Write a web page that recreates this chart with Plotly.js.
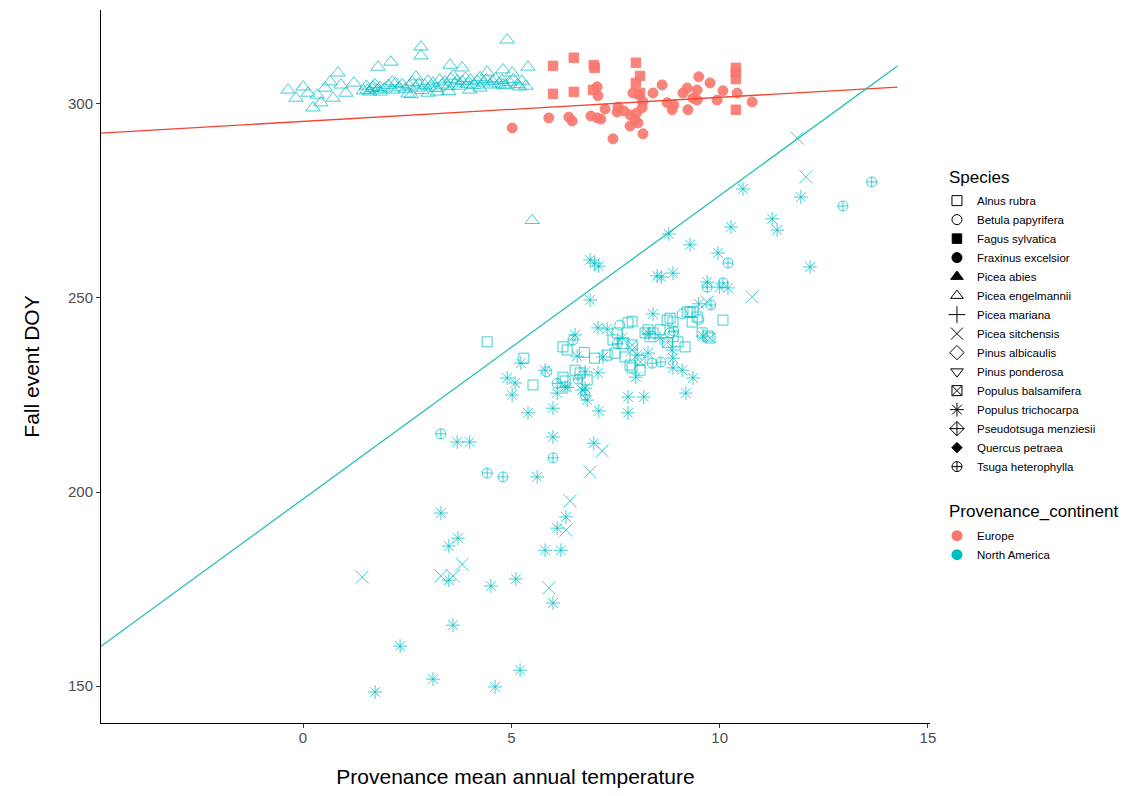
<!DOCTYPE html>
<html>
<head>
<meta charset="utf-8">
<script src="https://cdn.plot.ly/plotly-3.0.1.min.js"></script>
<style>html,body{margin:0;padding:0;background:#fff;}#chart{width:1143px;height:796px;}</style>
</head>
<body>
<div id="chart"></div>
<script>
// ---------------- data ----------------
const speciesNames = ["Alnus rubra","Betula papyrifera","Fagus sylvatica","Fraxinus excelsior","Picea abies","Picea engelmannii","Picea mariana","Picea sitchensis","Pinus albicaulis","Pinus ponderosa","Populus balsamifera","Populus trichocarpa","Pseudotsuga menziesii","Quercus petraea","Tsuga heterophylla"];
const continents = ["Europe","North America"];
const continentColors = ["#F8766D","#00BFC4"];
const xTicks = [0,5,10,15];
const yTicks = [150,200,250,300];

// Europe
const fagusX = [6.0,6.5,6.98,7.0,7.99,8.09,7.99,6.0,6.5,6.96,10.39,10.39,10.39,10.39,8.09];
const fagusY = [309.8,311.9,310.0,309.3,310.6,307.2,305.4,302.6,303.1,303.6,309.3,308.0,306.4,298.5,302.8];
const fraxinusX = [5.02,5.9,6.38,6.46,6.91,7.06,7.15,7.06,7.08,7.25,7.44,7.56,7.54,7.85,7.85,7.92,7.97,8.04,8.16,8.14,8.16,8.06,8.4,8.62,8.74,8.86,8.9,9.12,9.22,9.24,9.36,9.46,9.46,9.5,9.77,9.94,10.08,10.42,10.78,7.7,8.0];
const fraxinusY = [293.8,296.4,296.6,295.6,296.9,296.4,296.1,304.4,302.1,298.7,291.0,299.2,297.9,297.2,294.3,302.8,295.9,295.1,292.3,299.0,300.5,302.3,302.8,304.9,300.3,298.5,299.7,302.8,304.1,298.5,301.5,301.0,303.6,307.0,305.4,301.0,303.4,302.8,300.5,298.2,297.6];

// North America
const engelmanniiX = [-0.36,-0.17,0.0,0.12,0.24,0.34,0.43,0.53,0.65,0.72,0.84,0.91,1.03,1.22,1.54,1.68,1.80,1.85,2.11,2.14,2.52,2.71,2.83,2.83,3.53,3.82,4.42,4.9,4.8,5.02,5.4,5.2,4.8,3.22,4.25,
  1.45,1.52,1.6,1.65,1.72,1.78,1.85,1.95,2.05,2.15,2.22,2.3,2.38,2.45,2.55,2.62,2.7,2.78,2.85,2.92,3.0,3.05,3.12,3.2,3.28,3.33,3.4,3.48,3.55,3.6,3.65,3.7,3.75,3.82,3.9,3.95,4.02,4.1,4.18,4.25,4.32,4.4,4.48,4.55,4.62,4.7,4.78,4.85,4.95,5.05,5.15,5.25,5.35,3.5,4.0,2.6,3.0,5.5];
const engelmanniiY = [303.6,301.5,304.4,302.8,299.0,302.3,300.3,304.1,305.7,301.5,308.0,304.9,302.8,305.4,303.6,304.4,309.5,303.1,310.8,305.7,302.6,307.0,314.7,312.4,310.0,309.3,308.2,316.5,308.8,308.0,309.5,304.4,304.9,303.1,304.1,
  303.4,304.6,303.1,304.0,305.0,303.6,304.3,303.9,304.8,303.6,305.3,304.2,305.0,303.8,304.6,305.6,304.1,305.2,303.5,304.8,305.9,304.4,305.4,304.0,306.2,304.9,305.7,304.5,306.4,307.2,305.2,306.0,304.6,305.8,306.6,305.1,306.2,304.8,305.9,306.8,305.4,306.3,304.9,305.8,306.5,305.2,306.1,304.7,305.6,306.3,305.0,305.9,304.6,303.2,303.6,302.4,302.8,270.0];

const trichocarpaX = [10.56,11.95,11.26,11.38,12.17,10.27,8.78,9.29,9.96,6.89,7.0,7.1,8.5,8.6,8.88,9.7,10.0,10.2,6.89,8.4,7.08,7.3,6.53,7.66,8.57,8.86,7.2,6.58,8.02,8.28,8.88,8.88,9.1,9.36,7.99,7.08,6.77,6.34,6.77,7.8,8.18,9.19,3.7,4.0,6.0,6.98,5.62,5.4,6.0,5.02,5.09,6.1,6.29,6.7,6.82,7.1,7.8,3.31,3.72,3.5,3.5,4.51,5.11,6.0,6.31,6.1,5.81,6.19,3.6,2.33,3.12,1.73,4.61,5.21,5.23,4.9,5.81,8.3,9.6,9.5];
const trichocarpaY = [278.1,276.0,270.4,267.5,258.0,268.3,266.5,263.7,261.6,259.8,259.0,258.2,255.7,255.4,256.4,254.1,252.8,252.6,249.5,245.9,242.3,242.0,240.5,239.7,239.7,236.6,234.8,235.0,235.3,235.8,234.5,232.0,231.4,229.4,229.6,230.7,231.0,227.0,226.8,224.5,224.5,225.5,212.9,212.9,214.2,212.6,203.9,220.4,221.6,225.0,228.1,225.5,227.0,226.3,223.7,220.9,220.4,194.6,188.1,186.1,177.3,175.8,177.6,171.4,193.6,190.7,185.0,185.0,165.7,160.3,151.8,148.5,149.8,154.1,233.2,229.4,231.4,240.8,240.2,248.5];

const sitchensisX = [11.86,12.07,10.78,9.7,7.18,6.89,6.41,1.42,3.82,3.31,3.6,5.9,6.31,8.1,7.9];
const sitchensisY = [291.2,281.2,250.3,249.0,210.6,205.2,197.7,178.1,181.4,178.4,178.4,175.3,190.2,233.5,236.6];

const tsugaX = [13.65,12.96,10.2,9.7,10.08,9.79,6.48,8.38,8.59,6.6,6.77,3.31,6.0,4.42,4.8,6.1,7.54,8.9];
const tsugaY = [279.9,273.7,259.0,252.8,253.9,248.2,239.2,233.2,233.5,229.1,225.0,215.0,208.8,204.9,203.9,228.0,238.2,241.5];

const alnusX = [10.08,7.8,7.9,8.28,8.57,8.74,8.88,9.22,9.36,9.46,9.34,6.24,6.34,7.54,7.44,8.21,8.33,8.4,8.88,9.0,9.17,7.0,7.3,7.49,7.73,7.85,7.9,8.09,8.09,6.53,6.65,6.82,6.24,4.42,5.3,5.52,6.29,9.72,9.58,8.81,9.29,7.7,6.75];
const alnusY = [244.3,243.6,244.0,241.8,241.8,244.3,243.8,246.4,246.4,245.1,243.8,237.4,236.6,241.0,239.2,241.0,240.0,241.0,240.0,238.7,237.4,234.5,235.3,235.8,234.8,232.7,232.0,234.0,231.4,231.4,230.7,228.9,229.6,238.7,234.5,227.6,228.6,240.2,241.0,244.8,246.4,238.3,236.0];

const betulaX = [9.1,8.81,7.6,5.85,9.5];
const betulaY = [245.9,241.0,243.0,231.0,244.5];

const balsamiferaX = [9.77,7.9,8.75];
const balsamiferaY = [239.7,237.9,238.5];

// fitted lines (per continent): intercept, slope, x extent
const fitX = [-4.85, 14.27];
const europeFit = [295.5, 0.62];
const americaFit = [198.2, 7.82];

// ---------------- style ----------------
const symbolMap = {
  "Alnus rubra":"square-open","Betula papyrifera":"circle-open","Fagus sylvatica":"square","Fraxinus excelsior":"circle",
  "Picea abies":"triangle-up","Picea engelmannii":"triangle-up-open","Picea mariana":"cross-thin-open","Picea sitchensis":"x-thin-open",
  "Pinus albicaulis":"diamond-open","Pinus ponderosa":"triangle-down-open","Populus balsamifera":"square-x-open","Populus trichocarpa":"asterisk-open",
  "Pseudotsuga menziesii":"diamond-cross-open","Quercus petraea":"diamond","Tsuga heterophylla":"circle-cross-open"
};
const sizeMap = {
  "Alnus rubra":10,"Betula papyrifera":10,"Fagus sylvatica":9.5,"Fraxinus excelsior":10,"Picea abies":11,"Picea engelmannii":12.5,
  "Picea mariana":12,"Picea sitchensis":13,"Pinus albicaulis":11,"Pinus ponderosa":11,"Populus balsamifera":10,"Populus trichocarpa":11.5,
  "Pseudotsuga menziesii":11,"Quercus petraea":8,"Tsuga heterophylla":10
};
const legendSizeMap = Object.assign({}, sizeMap, {"Picea engelmannii":11, "Picea sitchensis":12, "Picea mariana":12});

const groups = [
  ["Fagus sylvatica", fagusX, fagusY, 0],
  ["Fraxinus excelsior", fraxinusX, fraxinusY, 0],
  ["Picea engelmannii", engelmanniiX, engelmanniiY, 1],
  ["Alnus rubra", alnusX, alnusY, 1],
  ["Betula papyrifera", betulaX, betulaY, 1],
  ["Populus balsamifera", balsamiferaX, balsamiferaY, 1],
  ["Tsuga heterophylla", tsugaX, tsugaY, 1],
  ["Picea sitchensis", sitchensisX, sitchensisY, 1],
  ["Populus trichocarpa", trichocarpaX, trichocarpaY, 1]
];

const traces = [];
groups.forEach(g => {
  const name = g[0], col = continentColors[g[3]];
  const open = symbolMap[name].indexOf("open") >= 0;
  traces.push({
    type: "scatter", mode: "markers", x: g[1], y: g[2], name: name, showlegend: false, hoverinfo: "x+y+name",
    marker: {symbol: symbolMap[name], size: sizeMap[name], color: col, opacity: open ? 0.75 : 0.9,
             line: {color: col, width: 1}}
  });
});

// fit lines
[[europeFit, "#F4432F"], [americaFit, "#1FC0B5"]].forEach(f => {
  traces.push({
    type: "scatter", mode: "lines", x: fitX, y: fitX.map(v => f[0][0] + f[0][1] * v),
    line: {color: f[1], width: 1.3}, showlegend: false, hoverinfo: "skip"
  });
});

// legend: species (black shapes)
speciesNames.forEach(s => {
  traces.push({
    type: "scatter", mode: "markers", x: [null], y: [null], name: s, legend: "legend",
    marker: {symbol: symbolMap[s], size: legendSizeMap[s], color: "#000000", line: {color: "#000000", width: 1}}
  });
});
// legend: continents
continents.forEach((c, i) => {
  traces.push({
    type: "scatter", mode: "markers", x: [null], y: [null], name: c, legend: "legend2",
    marker: {symbol: "circle", size: 11, color: continentColors[i]}
  });
});

const FONT = "Liberation Sans, Arial, sans-serif";
const layout = {
  width: 1143, height: 796,
  margin: {l: 101, r: 213, t: 10, b: 73, pad: 0},
  paper_bgcolor: "#ffffff", plot_bgcolor: "#ffffff",
  font: {family: FONT, color: "#000000"},
  xaxis: {
    range: [-4.85, 15.05], tickvals: xTicks, ticktext: xTicks.map(String),
    showgrid: false, zeroline: false, showline: true, linecolor: "#000000", linewidth: 1,
    ticks: "outside", ticklen: 4, tickcolor: "#333333", tickwidth: 1, ticklabelstandoff: -3,
    tickfont: {size: 15, color: "#4D4D4D", family: FONT},
    title: {text: "Provenance mean annual temperature", font: {size: 21, color: "#000000", family: FONT}, standoff: 24}
  },
  yaxis: {
    range: [140.5, 324.2], tickvals: yTicks, ticktext: yTicks.map(String),
    showgrid: false, zeroline: false, showline: true, linecolor: "#000000", linewidth: 1,
    ticks: "outside", ticklen: 4, tickcolor: "#333333", tickwidth: 1,
    tickfont: {size: 15, color: "#4D4D4D", family: FONT},
    title: {text: "Fall event DOY", font: {size: 21, color: "#000000", family: FONT}, standoff: 22}
  },
  showlegend: true,
  legend: {x: 1.0084, xanchor: "left", y: 0.753, yanchor: "top", font: {size: 11.5, color: "#000000", family: FONT},
           bgcolor: "rgba(0,0,0,0)", itemclick: false, itemdoubleclick: false},
  legend2: {x: 1.0084, xanchor: "left", y: 0.283, yanchor: "top", font: {size: 11.5, color: "#000000", family: FONT},
            bgcolor: "rgba(0,0,0,0)", itemclick: false, itemdoubleclick: false},
  annotations: [
    {xref: "paper", yref: "paper", x: 1.0205, y: 0.7644, xanchor: "left", yanchor: "middle", showarrow: false,
     text: "Species", font: {size: 17, color: "#000000", family: FONT}},
    {xref: "paper", yref: "paper", x: 1.0205, y: 0.2973, xanchor: "left", yanchor: "middle", showarrow: false,
     text: "Provenance_continent", font: {size: 17, color: "#000000", family: FONT}}
  ]
};

Plotly.newPlot("chart", traces, layout, {displayModeBar: false, staticPlot: true});
</script>
</body>
</html>
